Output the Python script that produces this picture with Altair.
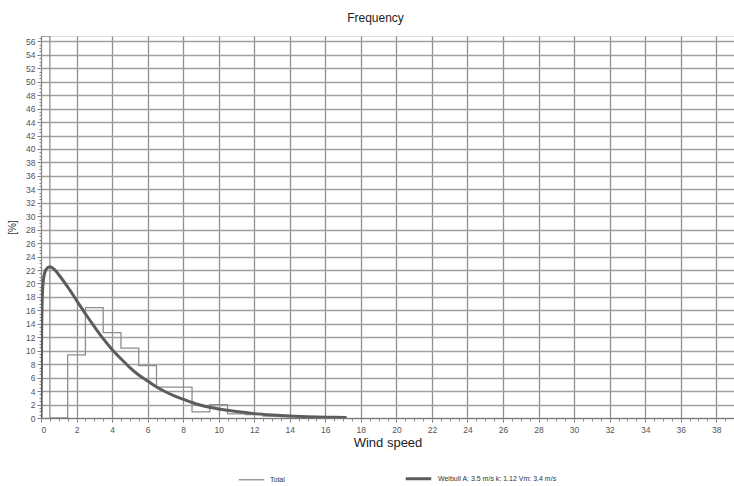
import altair as alt
import pandas as pd

# ---- data ----
bin_edges = [0, 0.5, 1.5, 2.5, 3.5, 4.5, 5.5, 6.5, 7.5, 8.5, 9.5, 10.5, 11.5, 12.5, 13.5, 14.5]
bin_values = [56.8, 0, 9.4, 16.4, 12.7, 10.4, 7.8, 4.6, 4.6, 0.9, 2.0, 0.6, 0.5, 0.3, 0.2]

weibull_x = [0, 0.04, 0.1, 0.2, 0.35, 0.5, 0.75, 1, 1.5, 2, 2.5, 3, 3.5, 4, 4.5, 5, 5.5,
             6, 6.5, 7, 7.5, 8, 8.5, 9, 9.5, 10, 11, 12, 13, 14, 15, 16, 17.2]
weibull_y = [0, 14, 19.5, 21.5, 22.3, 22.5, 22.1, 21.3, 19.5, 17.5, 15.5, 13.6, 11.8, 10.2,
             8.8, 7.5, 6.4, 5.5, 4.6, 3.9, 3.3, 2.8, 2.3, 1.9, 1.6, 1.35, 0.95, 0.65, 0.45,
             0.3, 0.2, 0.13, 0.08]

x_major = list(range(0, 40, 2))
y_major = list(range(0, 57, 2))
x_minor = [i * 0.5 for i in range(79)]
y_minor = [i * 0.5 for i in range(114)]

series_names = ["Total", "Weibull A: 3.5 m/s  k: 1.12 Vm: 3.4 m/s"]
series_colors = ["#8e8e8e", "#5c5c5c"]
series_widths = [1.3, 3]

# ---- build tables ----
steps = [(bin_edges[0], 0)]
for i, v in enumerate(bin_values):
    steps.append((bin_edges[i], v))
    steps.append((bin_edges[i + 1], v))
steps.append((bin_edges[-1], 0))
hist_df = pd.DataFrame({
    "speed": [s[0] for s in steps],
    "pct": [s[1] for s in steps],
    "order": list(range(len(steps))),
    "series": series_names[0],
})
weib_df = pd.DataFrame({"speed": weibull_x, "pct": weibull_y, "series": series_names[1]})

FONT = "Liberation Sans"
xscale = alt.Scale(domain=[0, 39], nice=False, zero=False)
yscale = alt.Scale(domain=[0, 56.8], nice=False, zero=False)

legend = alt.Legend(
    title=None, orient="none", legendX=197, legendY=428, direction="horizontal",
    symbolType="stroke", symbolSize=650, labelFontSize=7, labelFont=FONT,
    labelColor="#333", columnPadding=114, labelOffset=5,
)
color = alt.Color("series:N", scale=alt.Scale(domain=series_names, range=series_colors), legend=legend)
swidth = alt.StrokeWidth("series:N", scale=alt.Scale(domain=series_names, range=series_widths), legend=legend)

hist = alt.Chart(hist_df).mark_line(clip=True).encode(
    x=alt.X("speed:Q", scale=xscale, axis=alt.Axis(
        orient="bottom", values=x_major, grid=True, gridColor="#8f8f8f", gridWidth=1.3,
        tickSize=4, tickColor="#777", domainColor="#777", labelFontSize=8.5, labelFont=FONT,
        labelColor="#555", labelPadding=3, title="Wind speed", titleFont=FONT,
        titleFontSize=13, titleFontWeight="normal", titleColor="#222", titlePadding=3)),
    y=alt.Y("pct:Q", scale=yscale, axis=alt.Axis(
        orient="left", values=y_major, grid=True, gridColor="#a0a0a0", gridWidth=1.5,
        tickSize=4, tickColor="#777", domainColor="#777", labelFontSize=8.5, labelFont=FONT,
        labelColor="#555", labelPadding=2, title="[%]", titleFont=FONT, titleFontSize=10,
        titleFontWeight="normal", titleColor="#333", titlePadding=8)),
    order="order:Q",
    color=color,
    strokeWidth=swidth,
)

weib = alt.Chart(weib_df).mark_line(clip=True, interpolate="monotone").encode(
    x=alt.X("speed:Q", scale=xscale, axis=alt.Axis(
        orient="bottom", values=x_minor, labels=False, grid=False, tickSize=3,
        tickColor="#888", domain=False, title=None)),
    y=alt.Y("pct:Q", scale=yscale, axis=alt.Axis(
        orient="left", values=y_minor, labels=False, grid=False, tickSize=2,
        tickColor="#888", domain=False, title=None)),
    color=color,
    strokeWidth=swidth,
)

chart = alt.layer(hist, weib).resolve_axis(x="independent", y="independent").properties(
    width=693, height=382,
    title=alt.TitleParams("Frequency", font=FONT, fontSize=12, fontWeight="normal",
                          color="#222", anchor="middle", dx=-12, offset=11),
    autosize=alt.AutoSizeParams(type="none"),
    padding={"left": 41, "top": 36, "right": 0, "bottom": 68},
).configure_view(stroke="#777", strokeWidth=1).configure(background="white")

chart.save("out.html", embed_options={"renderer": "svg", "actions": False})
